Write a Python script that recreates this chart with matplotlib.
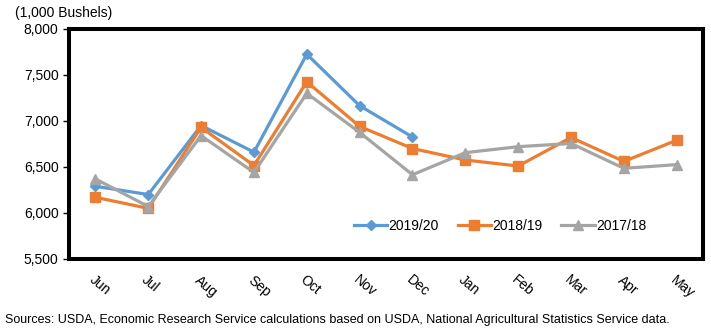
import matplotlib.pyplot as plt
from matplotlib.ticker import FuncFormatter

plt.rcParams['font.family'] = ['Liberation Sans', 'DejaVu Sans']

# 월별 데이터 (1,000 bushels)
months = ['Jun', 'Jul', 'Aug', 'Sep', 'Oct', 'Nov', 'Dec', 'Jan', 'Feb', 'Mar', 'Apr', 'May']
y2019 = [6290, 6200, 6950, 6660, 7725, 7165, 6825]
y2018 = [6170, 6050, 6930, 6515, 7425, 6940, 6700, 6575, 6510, 6820, 6560, 6790]
y2017 = [6370, 6070, 6840, 6440, 7300, 6875, 6415, 6655, 6720, 6755, 6485, 6525]

fig = plt.figure(figsize=(7.11, 3.32), dpi=100)
ax = fig.add_axes([0.097, 0.22, 0.892, 0.693])

x = range(len(months))
ax.plot(range(len(y2019)), y2019, color='#5B9BD5', lw=2.3, marker='D', ms=5, label='2019/20')
ax.plot(x, y2018, color='#ED7D31', lw=2.3, marker='s', ms=7, label='2018/19')
ax.plot(x, y2017, color='#A5A5A5', lw=2.3, marker='^', ms=7, label='2017/18')

ax.set_xlim(-0.5, len(months) - 0.5)
ax.set_ylim(5500, 8000)
ax.set_yticks(range(5500, 8001, 500))
ax.yaxis.set_major_formatter(FuncFormatter(lambda v, p: f'{int(v):,}'))
ax.tick_params(axis='y', labelsize=10, length=4, width=1)
ax.set_xticks(list(x))
ax.set_xticklabels(months, rotation=-40, ha='left', va='top', rotation_mode='anchor', fontsize=10)
ax.tick_params(axis='x', length=0, pad=10)

for s in ax.spines.values():
    s.set_linewidth(2.9)

ax.legend(loc='lower right', bbox_to_anchor=(0.93, 0.06), ncol=3, frameon=False,
          fontsize=10, handlelength=2.4, columnspacing=1.35, handletextpad=0.1)

fig.text(0.021, 0.962, '(1,000 Bushels)', fontsize=10, va='center')
fig.text(0.007, 0.035, 'Sources: USDA, Economic Research Service calculations based on USDA, '
         'National Agricultural Statistics Service data.', fontsize=9, va='center')

fig.savefig('out.png', dpi=100)
